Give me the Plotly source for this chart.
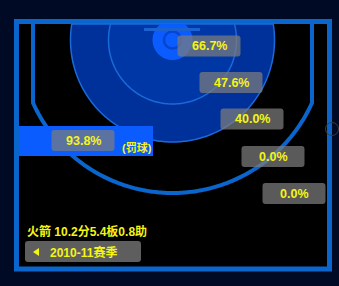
import numpy as np
import plotly.graph_objects as go

# ---------------- data ----------------
zone_names = ["篮下", "近距离", "中距离", "左侧三分", "右侧三分", "罚球"]
zone_pct = [66.7, 47.6, 40.0, 0.0, 0.0, 93.8]
team = "火箭"
pts, reb, ast = 10.2, 5.4, 0.8
season = "2010-11"

# ---------------- layout / positions (not data) ----------------
W, H = 339, 286
CX, CY = 172.5, 40.0          # basket centre (pixels)
TOP = 24.0                    # inner top edge of court
label_pos = [(209, 46), (231, 82.5), (252, 119), (273, 156.5), (294, 193.5), (83, 140.5)]
BOX_W, BOX_H = 63, 21

BG = "#000a24"
LINE = "#0a66cc"
YEL = "#f5f514"
FONT = "Liberation Sans, Arial, Noto Sans CJK SC, sans-serif"

shapes = []

def disc_path(r, ytop=TOP, n=200):
    """closed path of a disc centred on basket, clipped at y>=ytop"""
    if CY - r >= ytop:
        th = np.linspace(0, 2 * np.pi, n)
    else:
        a = np.arcsin((ytop - CY) / r)  # negative angle
        th = np.linspace(a, np.pi - a, n)
    xs = CX + r * np.cos(th)
    ys = CY + r * np.sin(th)
    return "M " + " L ".join(f"{x:.2f},{y:.2f}" for x, y in zip(xs, ys)) + " Z"

def arc_open(r, ytop, n=200):
    a = np.arcsin((ytop - CY) / r)
    th = np.linspace(a, np.pi - a, n)
    xs = CX + r * np.cos(th)
    ys = CY + r * np.sin(th)
    return xs, ys

def rrect(x0, y0, x1, y1, r=3):
    return (f"M {x0+r},{y0} L {x1-r},{y0} Q {x1},{y0} {x1},{y0+r} L {x1},{y1-r} "
            f"Q {x1},{y1} {x1-r},{y1} L {x0+r},{y1} Q {x0},{y1} {x0},{y1-r} "
            f"L {x0},{y0+r} Q {x0},{y0} {x0+r},{y0} Z")

# court floor + border
shapes.append(dict(type="rect", x0=16.5, y0=21.5, x1=329.5, y1=269,
                   fillcolor="#000000", line=dict(color=LINE, width=5), layer="below"))

# zones
shapes.append(dict(type="path", path=disc_path(102), fillcolor="#00319a",
                   line=dict(color="#1a6ad8", width=1.5)))
shapes.append(dict(type="path", path=disc_path(64), fillcolor="#0037a6",
                   line=dict(color="#1a6ad8", width=1.5)))
shapes.append(dict(type="path", path=disc_path(20), fillcolor="#0a5cff",
                   line=dict(width=0)))
# hoop ring
shapes.append(dict(type="circle", x0=CX - 8.5, y0=CY - 8.5, x1=CX + 8.5, y1=CY + 8.5,
                   fillcolor="#0a5cff", line=dict(color="#0645d0", width=2.5)))
# backboard
shapes.append(dict(type="line", x0=144, y0=29.5, x1=200, y1=29.5,
                   line=dict(color="#1d62d2", width=3)))

# three point line
x3, y3 = arc_open(153, 102.8)
pts3 = [(33, TOP), (33, 102.8)] + list(zip(x3[::-1], y3[::-1]))[1:-1] + [(312, 102.8), (312, TOP)]
shapes.append(dict(type="path",
                   path="M " + " L ".join(f"{x:.2f},{y:.2f}" for x, y in pts3),
                   line=dict(color=LINE, width=4)))

# free throw bar
shapes.append(dict(type="rect", x0=19, y0=126, x1=153, y1=156,
                   fillcolor="#0a5cff", line=dict(width=0)))

# re-draw left border over bar edge
shapes.append(dict(type="line", x0=16.5, y0=21.5, x1=16.5, y1=269,
                   line=dict(color=LINE, width=5)))

annotations = []
for (x, y), p in zip(label_pos, zone_pct):
    shapes.append(dict(type="path",
                       path=rrect(x - BOX_W / 2, y - BOX_H / 2, x + BOX_W / 2, y + BOX_H / 2),
                       fillcolor="rgba(125,125,125,0.72)", line=dict(width=0)))
    annotations.append(dict(x=x, y=y, text=f"{p:.1f}%", showarrow=False,
                            xanchor="center", yanchor="middle",
                            font=dict(family=FONT, size=12.5, color=YEL, weight="bold")))

annotations.append(dict(x=137, y=147, text="(罚球)", showarrow=False,
                        xanchor="center", yanchor="middle",
                        font=dict(family=FONT, size=11, color=YEL, weight="bold")))

annotations.append(dict(x=25, y=231, text=f"{team} {pts}分{reb}板{ast}助", showarrow=False,
                        xanchor="left", yanchor="middle",
                        font=dict(family=FONT, size=12, color=YEL, weight="bold")))

# season button
shapes.append(dict(type="path", path=rrect(25, 241, 141, 262, 3),
                   fillcolor="#5e5e5e", line=dict(width=0)))
shapes.append(dict(type="path", path="M 33,252 L 39,248 L 39,256 Z",
                   fillcolor=YEL, line=dict(width=0)))
annotations.append(dict(x=48, y=252, text=f"{season}赛季", showarrow=False,
                        xanchor="left", yanchor="middle",
                        font=dict(family=FONT, size=12, color=YEL, weight="bold")))

# small handle circle on right edge
shapes.append(dict(type="circle", x0=325.5, y0=122.5, x1=338.5, y1=135.5,
                   fillcolor="rgba(0,0,0,0)", line=dict(color="#3c3c3c", width=1)))

fig = go.Figure()
fig.add_trace(go.Scatter(x=[0, W], y=[0, H], mode="markers",
                         marker=dict(opacity=0), hoverinfo="skip", showlegend=False))
fig.update_layout(
    width=W, height=H, autosize=False,
    margin=dict(l=0, r=0, t=0, b=0, pad=0),
    paper_bgcolor=BG, plot_bgcolor=BG,
    xaxis=dict(range=[0, W], visible=False, fixedrange=True),
    yaxis=dict(range=[H, 0], visible=False, fixedrange=True),
    shapes=shapes, annotations=annotations, showlegend=False,
)
fig.write_html("out.html", config={"displayModeBar": False})
